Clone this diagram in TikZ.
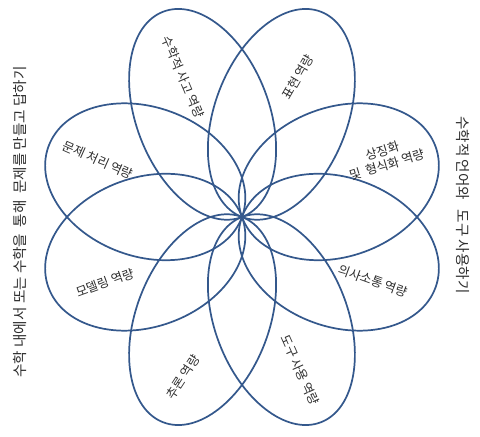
\documentclass[tikz,border=0pt]{standalone}
\usepackage{fontspec}
\setmainfont{Noto Sans CJK KR}
\definecolor{petalblue}{RGB}{52,88,140}
\definecolor{textgray}{RGB}{45,45,45}
\begin{document}
\begin{tikzpicture}[line join=round,line cap=round,scale=0.0265,
	petal/.style={draw=petalblue,line width=1.3pt},
	lbl/.style={text=textgray,font=\fontsize{9.5}{11}\selectfont,align=center,inner sep=0pt},
	side/.style={text=textgray,font=\fontsize{11}{13}\selectfont,inner sep=0pt}]
	\useasboundingbox (-242,-220) rectangle (238,217);
	% long petals (up and down)
	\foreach \ang in {69,111,249,291}
		\draw[petal,rotate=\ang] (110,0) ellipse (110 and 66.5);
	% wide petals (left and right)
	\foreach \ang in {20,160,200,340}
		\draw[petal,rotate=\ang] (103,0) ellipse (103 and 74.6);
	\node[lbl,rotate=-67] (sago) at (-59,140) {수학적 사고 역량};
	\node[lbl,rotate=60] (pyohyeon) at (56,140) {표현 역량};
	\node[lbl,rotate=17] (sangjing) at (143,59) {상징화\\및\ \ 형식화 역량};
	\node[lbl,rotate=-24] (munje) at (-144,57) {문제 처리 역량};
	\node[lbl,rotate=20] (model) at (-137,-66) {모델링 역량};
	\node[lbl,rotate=-20] (sotong) at (131,-64) {의사소통 역량};
	\node[lbl,rotate=57] (churon) at (-59,-160) {추론 역량};
	\node[lbl,rotate=-66] (dogu) at (58,-153) {도구 사용 역량};
	\node[side,rotate=90] (leftside) at (-222,-5) {수학 내에서 또는 수학을\ \ 통해\ \ 문제를 만들고 답하기};
	\node[side,rotate=-90] (rightside) at (221,12) {수학적 언어와\ \ \ 도구 사용하기};
\end{tikzpicture}
\end{document}
